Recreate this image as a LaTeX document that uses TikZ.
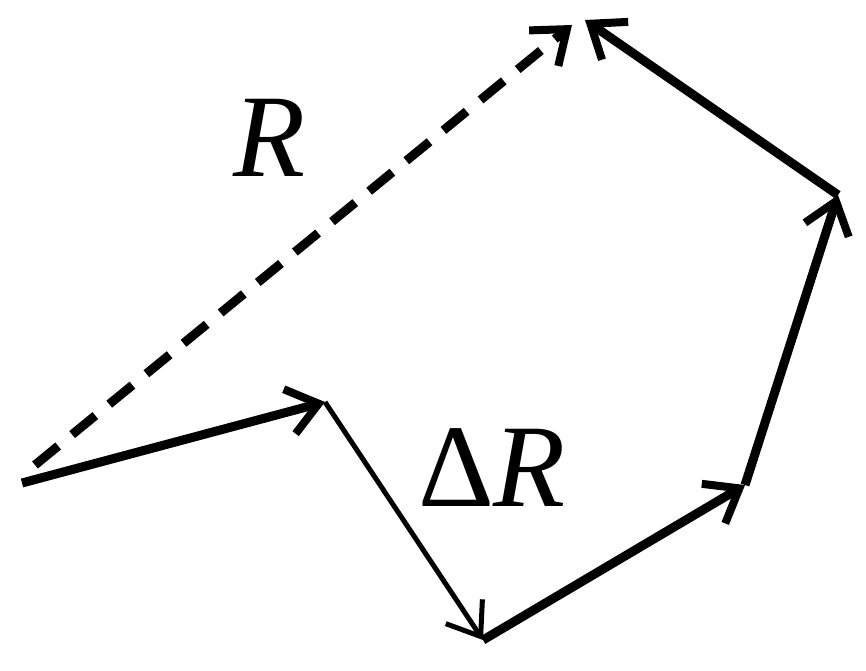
\documentclass[tikz,border=0pt]{standalone}
\usepackage{fontspec}
\setmainfont{Liberation Serif}
\usetikzlibrary{arrows.meta}
\begin{document}
\begin{tikzpicture}[x=1pt,y=-1pt,
  vec/.style={line width=9pt,-{Straight Barb[length=30pt,width=46pt,line width=8pt]}},
  thinvec/.style={line width=5pt,-{Straight Barb[length=30pt,width=44pt,line width=5pt]}},
  dvec/.style={line width=9pt,dash pattern=on 30pt off 18pt,-{Straight Barb[length=30pt,width=46pt,line width=8pt]}},
  lbl/.style={font=\fontsize{118}{118}\selectfont}]
\useasboundingbox (0,0) rectangle (866,670);
\coordinate (A) at (22,483);
\coordinate (A2) at (35,465);
\coordinate (B) at (325,402);
\coordinate (C) at (483,640);
\coordinate (D) at (745,485);
\coordinate (E) at (838,195);
\coordinate (F) at (585,20);
\coordinate (G) at (572,25);
\draw[vec] (A) -- (B);
\draw[thinvec] (B) -- (C);
\draw[vec] (C) -- (D);
\draw[vec] (D) -- (E);
\draw[vec] (E) -- (F);
\draw[dvec] (A2) -- (G);
\node[lbl] (r) at (270,138) {\textit{R}};
\node[lbl] (dr) at (492,468) {Δ\textit{R}};
\end{tikzpicture}
\end{document}
